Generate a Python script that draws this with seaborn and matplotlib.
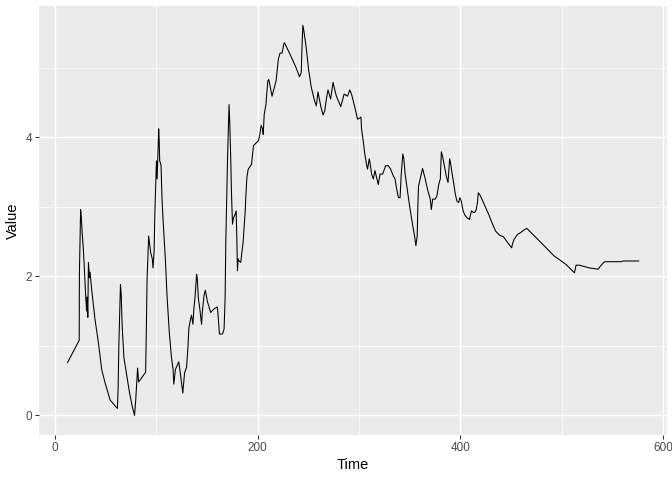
import numpy as np
import pandas as pd
import matplotlib
matplotlib.use("Agg")
import matplotlib.pyplot as plt
import seaborn as sns

# Series
time = [12.6, 24.1, 24.3, 25.5, 26.2, 27.0, 28.2, 29.0, 30.4, 31.4, 32.0, 32.6, 33.2,
        34.2, 34.8, 36.4, 39.7, 43.0, 46.3, 49.6, 54.6, 61.8, 62.5, 63.2, 64.8, 65.5,
        66.5, 68.2, 71.1, 73.7, 76.4, 78.7, 79.8, 81.0, 81.7, 82.7, 89.6, 90.3, 91.0,
        92.6, 93.6, 94.6, 96.2, 96.9, 98.0, 98.7, 99.7, 100.3, 101.0, 102.5, 103.0,
        103.5, 104.8, 105.8, 106.8, 109.1, 110.8, 113.0, 115.0, 116.7, 117.4, 119.0,
        122.3, 124.0, 126.3, 128.0, 130.0, 131.3, 132.3, 133.9, 134.9, 136.3, 137.3,
        138.3, 139.9, 140.6, 141.6, 142.9, 144.8, 145.6, 147.2, 148.5, 150.5, 153.8,
        157.0, 160.4, 161.4, 162.4, 165.4, 167.0, 168.0, 168.7, 169.7, 170.4, 171.4,
        171.9, 172.6, 173.6, 174.3, 175.3, 176.3, 177.6, 178.9, 179.6, 180.2, 180.9,
        181.9, 183.5, 184.5, 185.8, 186.8, 187.8, 188.5, 189.5, 190.8, 194.1, 195.1,
        196.1, 199.4, 201.0, 202.6, 203.6, 204.9, 205.6, 206.6, 208.3, 210.1, 211.1,
        212.6, 214.3, 216.6, 218.3, 219.3, 220.5, 222.2, 224.2, 225.9, 226.5, 228.2,
        233.1, 238.0, 241.4, 243.1, 243.8, 244.7, 245.7, 248.0, 250.3, 253.0, 256.3,
        258.0, 259.6, 262.3, 264.6, 266.3, 267.9, 269.5, 272.1, 274.5, 275.5, 277.8,
        282.1, 285.4, 288.7, 291.0, 292.7, 296.0, 298.6, 300.3, 302.0, 302.6, 304.2,
        305.8, 307.5, 308.5, 310.2, 311.2, 312.5, 314.2, 315.8, 317.5, 319.1, 320.8,
        323.4, 326.4, 329.0, 331.3, 334.0, 335.6, 337.3, 339.0, 340.6, 341.6, 343.3,
        344.3, 345.6, 347.2, 349.5, 351.5, 353.2, 354.9, 356.2, 357.5, 358.1, 358.8,
        360.4, 362.8, 365.4, 368.0, 370.4, 371.4, 372.8, 375.4, 377.0, 378.7, 380.3,
        381.3, 382.6, 384.6, 386.2, 387.9, 389.5, 390.5, 392.0, 393.7, 395.1, 396.7,
        398.4, 399.5, 401.0, 402.8, 404.5, 406.7, 409.0, 411.0, 412.7, 414.4, 415.7,
        417.1, 417.7, 419.0, 421.6, 424.9, 428.3, 431.5, 434.8, 438.8, 442.5, 446.4,
        450.7, 451.4, 453.0, 456.3, 459.6, 462.3, 465.6, 469.6, 474.5, 481.2, 487.8,
        492.7, 497.7, 504.3, 509.2, 512.6, 514.2, 517.5, 522.4, 527.4, 532.4, 535.7,
        539.0, 542.3, 547.3, 558.8, 560.5, 576.0]

value = [0.76, 1.08, 2.03, 2.96, 2.85, 2.63, 2.39, 2.17, 1.74, 1.50, 1.70, 1.41, 2.20,
         1.98, 2.06, 1.81, 1.38, 1.05, 0.66, 0.47, 0.22, 0.10, 0.40, 1.00, 1.88, 1.75,
         1.28, 0.83, 0.57, 0.33, 0.13, 0.00, 0.21, 0.52, 0.68, 0.48, 0.62, 1.19, 1.93,
         2.58, 2.46, 2.34, 2.25, 2.12, 2.36, 2.89, 3.40, 3.66, 3.40, 4.12, 3.95,
         3.66, 3.60, 3.11, 2.82, 2.24, 1.70, 1.19, 0.85, 0.66, 0.45, 0.66,
         0.77, 0.59, 0.32, 0.61, 0.69, 0.97, 1.26, 1.38, 1.44, 1.31, 1.55,
         1.69, 2.03, 1.96, 1.69, 1.55, 1.31, 1.50, 1.72, 1.80, 1.64, 1.48,
         1.53, 1.56, 1.38, 1.17, 1.17, 1.24, 1.67, 2.49, 3.16, 3.68, 4.21,
         4.47, 4.21, 3.68, 3.20, 2.75, 2.84, 2.88, 2.94, 2.53, 2.08, 2.25,
         2.22, 2.20, 2.34, 2.49, 2.72, 2.92, 3.16, 3.42, 3.54, 3.61, 3.76,
         3.88, 3.93, 3.95, 4.07, 4.17, 4.12, 4.04, 4.33, 4.47, 4.81, 4.83,
         4.72, 4.59, 4.72, 4.81, 4.95, 5.12, 5.21, 5.21, 5.34, 5.36, 5.31,
         5.16, 5.00, 4.87, 4.93, 5.27, 5.61, 5.53, 5.29, 4.98, 4.72, 4.52,
         4.45, 4.65, 4.45, 4.32, 4.38, 4.55, 4.68, 4.55, 4.79, 4.72, 4.59,
         4.44, 4.62, 4.59, 4.68, 4.62, 4.43, 4.26, 4.27, 4.29, 4.12, 3.95,
         3.76, 3.61, 3.54, 3.69, 3.61, 3.47, 3.40, 3.52, 3.42, 3.32, 3.47,
         3.47, 3.59, 3.59, 3.54, 3.44, 3.40, 3.25, 3.13, 3.13, 3.44, 3.76,
         3.69, 3.47, 3.30, 3.06, 2.87, 2.72, 2.58, 2.44, 2.58, 2.99, 3.30,
         3.40, 3.55, 3.40, 3.23, 3.11, 2.96, 3.11, 3.11, 3.16, 3.32, 3.40,
         3.79, 3.72, 3.56, 3.44, 3.35, 3.69, 3.62, 3.47, 3.32, 3.18, 3.08,
         3.06, 3.13, 3.08, 2.94, 2.88, 2.84, 2.82, 2.94, 2.92, 2.92, 2.96,
         3.08, 3.20, 3.18, 3.10, 2.99, 2.88, 2.76, 2.65, 2.59, 2.57, 2.49,
         2.41, 2.46, 2.53, 2.60, 2.63, 2.66, 2.69, 2.63, 2.56, 2.46, 2.36,
         2.29, 2.24, 2.17, 2.10, 2.05, 2.16, 2.16, 2.14, 2.12, 2.11, 2.10,
         2.16, 2.21, 2.21, 2.21, 2.22, 2.22]

x_ticks = [0, 200, 400, 600]
y_ticks = [0, 2, 4]

df = pd.DataFrame({"Time": time, "Value": value})

plt.rcParams["font.family"] = ["Liberation Sans", "DejaVu Sans"]

fig = plt.figure(figsize=(7, 5), dpi=96)
ax = fig.add_axes([0.058, 0.094, 0.935, 0.894])
ax.set_facecolor("#EBEBEB")

sns.lineplot(data=df, x="Time", y="Value", ax=ax, color="black",
             linewidth=0.8, estimator=None, sort=False)

# ggplot-like 5% expansion
xr = df["Time"].max() - df["Time"].min()
yr = df["Value"].max() - df["Value"].min()
ax.set_xlim(df["Time"].min() - 0.05 * xr, df["Time"].max() + 0.05 * xr)
ax.set_ylim(df["Value"].min() - 0.05 * yr, df["Value"].max() + 0.05 * yr)

ax.set_xticks(x_ticks)
ax.set_yticks(y_ticks)
ax.set_xticks([100, 300, 500], minor=True)
ax.set_yticks([1, 3, 5], minor=True)
ax.grid(which="major", color="white", linewidth=1.1)
ax.grid(which="minor", color="white", linewidth=0.55)
ax.set_axisbelow(True)
for s in ax.spines.values():
    s.set_visible(False)

ax.tick_params(which="major", length=3, width=0.8, color="#333333",
               labelcolor="#4D4D4D", labelsize=8.8, pad=2)
ax.tick_params(which="minor", length=0)
ax.set_xlabel("Time", fontsize=11, color="black", labelpad=3)
ax.set_ylabel("Value", fontsize=11, color="black", labelpad=4)

fig.savefig("out.png", dpi=96)
